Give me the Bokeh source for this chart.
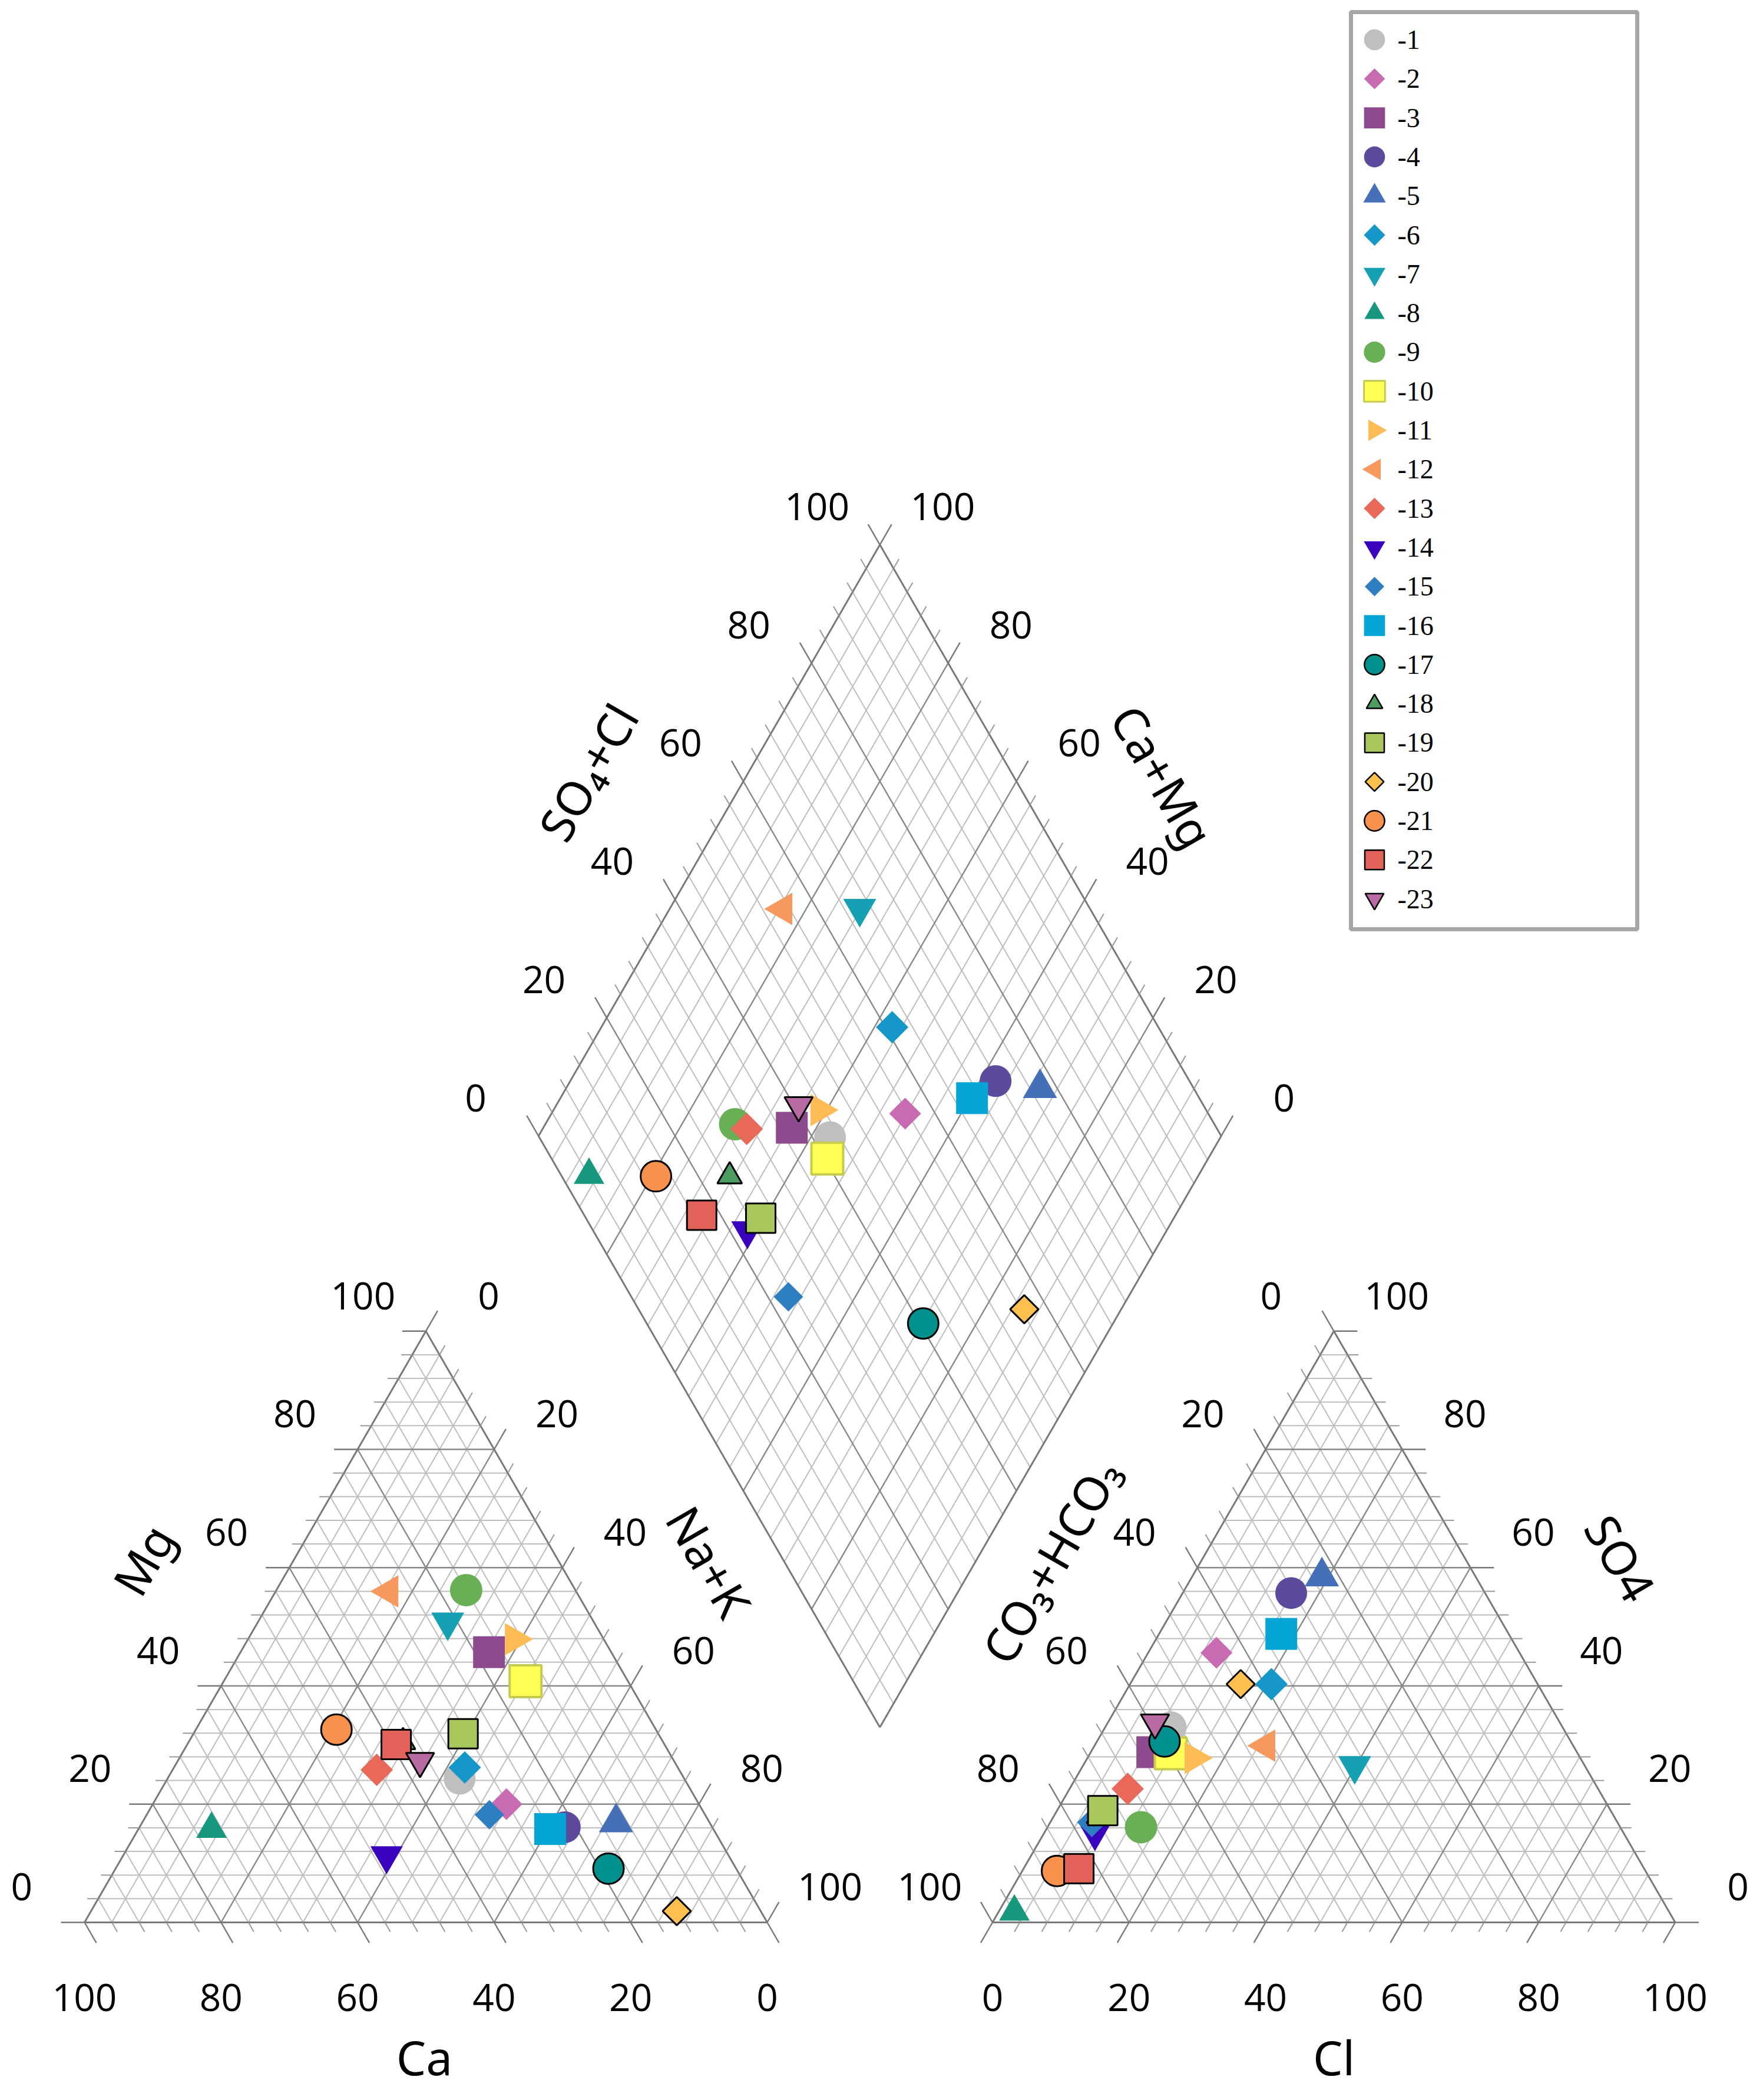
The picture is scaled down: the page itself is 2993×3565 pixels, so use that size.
import numpy as np
from bokeh.plotting import figure
from bokeh.models import ColumnDataSource, Range1d
from bokeh.core.properties import value
from bokeh.embed import file_html
from bokeh.resources import INLINE

# ------------------------------------------------------------------ data
samples = ["-1", "-2", "-3", "-4", "-5", "-6", "-7", "-8", "-9", "-10", "-11", "-12",
           "-13", "-14", "-15", "-16", "-17", "-18", "-19", "-20", "-21", "-22", "-23"]

# cations, % meq
ca   = [32.9, 28.2, 17.9, 21.6, 13.7, 31.2, 21.4, 73.5, 16.0, 15.0, 13.1, 27.4,
        44.3, 50.1, 31.6, 23.9, 18.7, 38.1, 28.6, 12.3, 46.8, 39.3, 37.2]
mg   = [24.3, 20.0, 45.7, 16.1, 16.9, 26.2, 50.8, 15.8, 56.2, 40.8, 47.9, 56.0,
        25.8, 11.3, 18.2, 15.8, 9.1, 30.5, 31.9, 1.9, 32.6, 30.1, 27.3]
na_k = [42.8, 51.8, 36.4, 62.3, 69.4, 42.6, 27.8, 10.7, 27.8, 44.2, 39.0, 16.6,
        29.9, 38.6, 50.2, 60.3, 72.2, 31.4, 39.5, 85.8, 20.6, 30.6, 35.5]

# anions, % meq
hco3 = [57.4, 44.4, 62.2, 28.4, 22.5, 39.0, 33.7, 95.9, 70.2, 59.6, 56.6, 45.0,
        68.9, 77.4, 77.0, 33.3, 59.5, 75.4, 74.4, 43.5, 86.2, 82.8, 59.3]
so4  = [33.0, 45.6, 28.8, 55.7, 58.5, 40.3, 26.5, 1.8, 16.1, 28.6, 27.8, 29.9,
        22.6, 15.2, 16.9, 48.8, 30.6, 18.0, 18.9, 40.3, 8.7, 9.1, 33.8]
cl   = [9.6, 10.0, 9.0, 15.9, 19.0, 20.7, 39.8, 2.3, 13.7, 11.8, 15.6, 25.1,
        8.5, 7.4, 6.1, 17.9, 9.9, 6.6, 6.7, 16.2, 5.1, 8.1, 6.9]

tick_values = [0, 20, 40, 60, 80, 100]

# ------------------------------------------------------------------ styles
shapes = ["circle", "diamond", "square", "circle", "triangle", "diamond", "inverted_triangle",
          "triangle", "circle", "square", "triangle_right", "triangle_left", "diamond",
          "inverted_triangle", "diamond", "square", "circle", "triangle", "square", "diamond",
          "circle", "square", "inverted_triangle"]
fills = ["#BFBFBF", "#C96BB3", "#8E4A8E", "#5E4A9C", "#4570B8", "#1697C9", "#16A0B4",
         "#17977D", "#69AF55", "#FFFF55", "#FFBB55", "#F7985E", "#E8695A", "#3A02BE",
         "#2E7EC2", "#05A6D6", "#00918E", "#4D9C62", "#A8C85E", "#FFC04F", "#F8914B",
         "#E2625A", "#B86BA2"]
edges = [None] * 9 + ["#C5CB4E"] + [None] * 6 + ["#000000"] * 7
sizes = [54, 54, 54, 54, 58, 55, 56, 52, 55, 54, 55, 55, 55, 55, 50, 54, 52, 42, 50, 48, 52, 50, 48]

# ------------------------------------------------------------------ geometry
K = 11.59                 # px per percent unit
ORG_X, ORG_Y = 151, 3271  # page px of the origin (left corner of cation triangle)
W, H = 2975, 3549
S3 = np.sqrt(3) / 2
GAP = 33.0
OXL = 0.0
OXR = 100.0 + GAP
BX, BY = 100.0 + GAP / 2, GAP * S3


def ux(px):
    return (px - ORG_X) / K


def uy(py):
    return (ORG_Y - py) / K


def P(a, b):  # diamond point: a = Ca+Mg, b = SO4+Cl
    return BX + 0.5 * (b - a), BY + S3 * (a + b)


p = figure(width=W, height=H, output_backend="svg", toolbar_location=None,
           x_range=Range1d(ux(8), ux(8 + W)), y_range=Range1d(uy(8 + H), uy(8)))
p.axis.visible = False
p.grid.visible = False
p.outline_line_color = None
p.min_border = 0
p.min_border_left = p.min_border_right = p.min_border_top = p.min_border_bottom = 0
p.background_fill_color = "white"

# ------------------------------------------------------------------ grids
segs = {k: ([], []) for k in ["minor", "major", "border", "tmin", "tmaj"]}
T_MIN, T_MAJ = 1.6, 3.45


def add(kind, p1, p2):
    segs[kind][0].append([p1[0], p2[0]])
    segs[kind][1].append([p1[1], p2[1]])


def tick(major, p0, d):
    t = T_MAJ if major else T_MIN
    add("tmaj" if major else "tmin", p0, (p0[0] + t * d[0], p0[1] + t * d[1]))


for v in range(0, 101, 4):
    major = v % 20 == 0
    kind = "border" if v == 0 else ("major" if major else "minor")
    inner = v < 100
    # ---- cation triangle
    a1, a2 = (OXL + v / 2, S3 * v), (OXL + 100 - v / 2, S3 * v)          # Mg
    if inner: add(kind, a1, a2)
    tick(major, a1, (-1, 0))
    b1, b2 = (OXL + v, 0), (OXL + 50 + v / 2, S3 * (100 - v))            # Na+K
    if inner: add(kind, b1, b2)
    tick(major, b2, (0.5, S3))
    c1, c2 = (OXL + 100 - v, 0), (OXL + (100 - v) / 2, S3 * (100 - v))  # Ca
    if inner: add(kind, c1, c2)
    tick(major, c1, (0.5, -S3))
    # ---- anion triangle
    a1, a2 = (OXR + v / 2, S3 * v), (OXR + 100 - v / 2, S3 * v)          # SO4
    if inner: add(kind, a1, a2)
    tick(major, a2, (1, 0))
    b1, b2 = (OXR + v, 0), (OXR + 50 + v / 2, S3 * (100 - v))            # Cl
    if inner: add(kind, b1, b2)
    tick(major, b1, (-0.5, -S3))
    c1, c2 = (OXR + 100 - v, 0), (OXR + (100 - v) / 2, S3 * (100 - v))  # HCO3
    if inner: add(kind, c1, c2)
    tick(major, c2, (-0.5, S3))
    # ---- diamond
    dkind = "border" if v in (0, 100) else ("major" if major else "minor")
    add(dkind, P(v, 0), P(v, 100))
    tick(major, P(v, 100), (0.5, S3))
    add(dkind, P(0, v), P(100, v))
    tick(major, P(100, v), (-0.5, S3))

styles = {"minor": ("#BEBEBE", 2), "major": ("#888888", 2.4), "border": ("#787878", 3),
          "tmin": ("#999999", 2), "tmaj": ("#787878", 2.4)}
for k in ["minor", "major", "border", "tmin", "tmaj"]:
    col, lw = styles[k]
    p.multi_line(xs=segs[k][0], ys=segs[k][1], line_color=col, line_width=lw)

# ------------------------------------------------------------------ tick labels
lx, ly, lt = [], [], []
DX, DY, DB = 9.2, 5.2, 10.96
for v in tick_values:
    s = str(v)
    # cation: Mg (left side), Na+K (right side), Ca (base)
    lx += [OXL + v / 2 - DX, OXL + 50 + v / 2 + DX, OXL + 100 - v]
    ly += [S3 * v + DY, S3 * (100 - v) + DY, -DB]
    lt += [s, s, s]
    # anion: HCO3 (left side), SO4 (right side), Cl (base)
    lx += [OXR + (100 - v) / 2 - DX, OXR + 100 - v / 2 + DX, OXR + v]
    ly += [S3 * (100 - v) + DY, S3 * v + DY, -DB]
    lt += [s, s, s]
    # diamond: SO4+Cl (upper-left), Ca+Mg (upper-right)
    q1, q2 = P(100, v), P(v, 100)
    lx += [q1[0] - DX, q2[0] + DX]
    ly += [q1[1] + 5.6, q2[1] + 5.6]
    lt += [s, s]
p.text(x=lx, y=ly, text=lt, text_font=value("Open Sans"), text_font_size="64px",
       text_align="center", text_baseline="middle", text_color="#000000")

# ------------------------------------------------------------------ axis titles
titles = [("SO₄+Cl", ux(1005), uy(1318), np.pi / 3),
          ("Ca+Mg", ux(1982), uy(1325), -np.pi / 3),
          ("Mg", ux(250), uy(2655), np.pi / 3),
          ("Na+K", ux(1212), uy(2658), -np.pi / 3),
          ("CO₃+HCO₃", ux(1791), uy(2657), np.pi / 3),
          ("SO4", ux(2759), uy(2652), -np.pi / 3),
          ("Ca", ux(728), uy(3499), 0.0),
          ("Cl", ux(2272), uy(3499), 0.0)]
for txt, x, y, ang in titles:
    p.text(x=[x], y=[y], text=[txt], angle=ang, text_font=value("Noto Sans"),
           text_font_size="80px", text_align="center", text_baseline="middle",
           text_color="#000000")

# ------------------------------------------------------------------ samples
def marker_spec(shape, size):
    if shape == "diamond":
        return "square", np.pi / 4, size / np.sqrt(2)
    if shape == "triangle_right":
        return "triangle", -np.pi / 2, size
    if shape == "triangle_left":
        return "triangle", np.pi / 2, size
    return shape, 0.0, size


cols = {k: [] for k in ["x", "y", "marker", "angle", "size", "fill", "line", "lalpha", "lw"]}
for i in range(len(samples)):
    m, ang, sz = marker_spec(shapes[i], sizes[i])
    a_val = ca[i] + mg[i]
    b_val = so4[i] + cl[i]
    pts = [(OXL + na_k[i] + mg[i] / 2, S3 * mg[i]),
           (OXR + cl[i] + so4[i] / 2, S3 * so4[i]),
           P(a_val, b_val)]
    for (x, y) in pts:
        cols["x"].append(x)
        cols["y"].append(y)
        cols["marker"].append(m)
        cols["angle"].append(ang)
        cols["size"].append(sz)
        cols["fill"].append(fills[i])
        cols["line"].append(edges[i] if edges[i] else fills[i])
        cols["lalpha"].append(1.0 if edges[i] else 0.0)
        cols["lw"].append(4 if edges[i] == "#C5CB4E" else 3)
src = ColumnDataSource(cols)
p.scatter(x="x", y="y", marker="marker", angle="angle", size="size", fill_color="fill",
          line_color="line", line_alpha="lalpha", line_width="lw", source=src)

# ------------------------------------------------------------------ legend (drawn)
p.quad(left=[ux(2301)], right=[ux(2787)], top=[uy(28)], bottom=[uy(1585)],
       fill_color="white", line_color="#A6A6A6", line_width=7)
LEG_TOP, LEG_STEP = 75.0, 66.3
lg = {k: [] for k in ["x", "y", "tx", "marker", "angle", "size", "fill", "line", "lalpha", "lw", "label"]}
for i in range(len(samples)):
    m, ang, sz = marker_spec(shapes[i], sizes[i])
    yy = uy(LEG_TOP + i * LEG_STEP)
    lg["x"].append(ux(2341))
    lg["tx"].append(ux(2380))
    lg["y"].append(yy)
    lg["marker"].append(m)
    lg["angle"].append(ang)
    lg["size"].append(sz * 0.66)
    lg["fill"].append(fills[i])
    lg["line"].append(edges[i] if edges[i] else fills[i])
    lg["lalpha"].append(1.0 if edges[i] else 0.0)
    lg["lw"].append(3 if edges[i] == "#C5CB4E" else 2.5)
    lg["label"].append(samples[i])
lsrc = ColumnDataSource(lg)
p.scatter(x="x", y="y", marker="marker", angle="angle", size="size", fill_color="fill",
          line_color="line", line_alpha="lalpha", line_width="lw", source=lsrc)
p.text(x="tx", y="y", text="label", source=lsrc, text_font=value("Liberation Serif"),
       text_font_size="46px", text_align="left", text_baseline="middle", text_color="#000000")

open("out.html", "w").write(file_html(p, INLINE))
